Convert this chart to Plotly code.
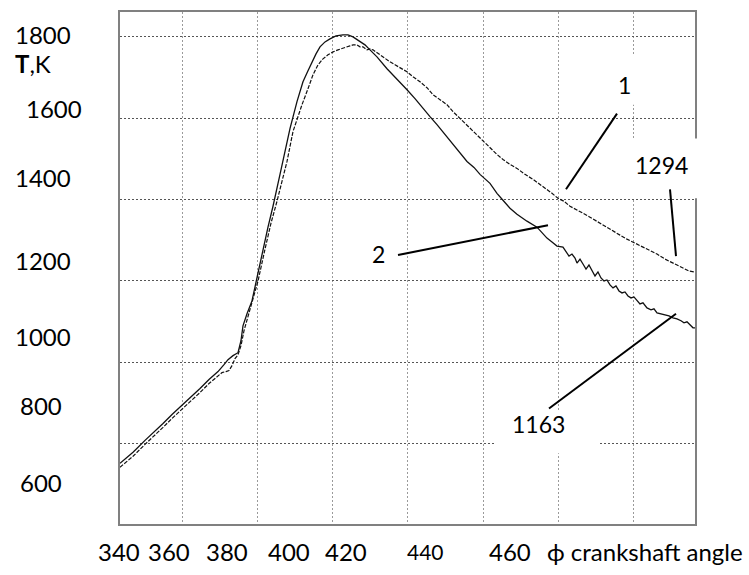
import plotly.graph_objects as go

# ---- data (crank angle, deg ; temperature, K) ----
angle_1 = [343.54, 347.0, 350.18, 352.83, 354.96, 357.35, 360.0, 362.39, 364.78, 367.17,
           369.56, 370.62, 371.68, 372.48, 373.27, 374.07, 374.87, 375.66, 376.46, 377.52,
           378.58, 380.18, 382.04, 383.63, 385.22, 386.55, 387.88, 389.47, 390.53, 391.86,
           393.45, 394.78, 396.11, 397.43, 398.76, 400.09, 401.42, 402.74, 403.81, 404.60,
           405.40, 406.46, 407.26, 408.05, 409.12, 409.91, 410.71, 411.77, 413.10, 414.16,
           415.22, 416.55, 417.88, 419.74, 421.33, 423.19, 425.04, 426.64, 428.50, 430.35,
           431.95, 433.81, 435.40, 437.26, 439.12, 440.97, 442.30, 443.63, 445.22, 447.08,
           448.94, 451.06, 453.19, 455.04, 456.90, 458.23, 459.82, 461.42, 463.01, 464.60,
           466.46, 468.32, 470.18, 472.30, 474.43, 476.29, 478.14, 479.73, 481.59, 483.72,
           486.11, 488.23, 490.35, 491.68, 493.01, 494.60, 496.20]
temp_1 = [741.2, 768.1, 797.5, 819.6, 839.2, 861.3, 883.3, 902.9, 925.0, 947.1,
          966.7, 974.0, 976.5, 978.9, 991.2, 1008.3, 1018.1, 1040.2, 1077.0, 1111.3,
          1143.1, 1199.5, 1277.9, 1341.7, 1395.6, 1444.6, 1493.6, 1567.2, 1599.0, 1633.3,
          1672.5, 1706.9, 1731.4, 1746.1, 1755.9, 1763.2, 1768.1, 1773.0, 1775.5, 1777.9,
          1780.4, 1780.4, 1775.5, 1775.5, 1768.1, 1770.6, 1768.1, 1760.8, 1753.4, 1746.1,
          1738.7, 1731.4, 1724.0, 1714.2, 1702.0, 1689.7, 1675.0, 1657.8, 1645.6, 1633.3,
          1616.2, 1599.0, 1584.3, 1567.2, 1552.4, 1535.3, 1523.0, 1510.8, 1498.5, 1486.3,
          1476.5, 1461.8, 1449.5, 1437.3, 1425.0, 1415.2, 1402.9, 1395.6, 1383.3, 1376.0,
          1366.2, 1356.4, 1346.6, 1334.3, 1322.1, 1312.3, 1302.4, 1295.1, 1285.3, 1275.5,
          1265.7, 1253.4, 1243.6, 1238.7, 1231.4, 1224.0, 1221.6]

angle_2 = [343.54, 347.0, 350.18, 352.83, 354.96, 357.35, 360.0, 362.39, 364.78, 367.17,
           369.56, 371.15, 372.21, 373.54, 374.87, 375.66, 376.19, 377.26, 378.58, 380.18,
           381.50, 382.83, 384.16, 385.22, 386.02, 387.35, 388.67, 390.53, 392.12, 393.45,
           394.51, 395.58, 396.64, 397.97, 399.29, 400.89, 402.74, 404.07, 405.40, 406.73,
           408.58, 409.91, 411.77, 414.43, 417.08, 419.74, 421.86, 423.98, 425.84, 427.70,
           429.82, 431.95, 433.81, 435.67, 437.52, 439.12, 441.77, 443.63, 445.22, 447.08,
           448.94, 451.59, 454.25, 456.90, 458.23, 459.56, 461.15, 461.95, 462.75, 463.54,
           464.34, 464.87, 465.67, 466.46, 467.26, 468.05, 468.85, 469.65, 470.44, 471.24,
           472.04, 472.83, 473.63, 474.43, 475.22, 476.02, 476.82, 477.61, 478.41, 479.21,
           480.00, 480.80, 481.59, 482.39, 483.45, 484.52, 485.31, 486.11, 487.17, 488.23,
           489.29, 490.35, 491.42, 492.48, 493.27, 494.07, 494.87, 495.67, 496.20]
temp_2 = [751.0, 777.9, 807.3, 829.4, 849.0, 871.1, 893.1, 912.7, 934.8, 956.9,
          976.5, 993.6, 1005.9, 1015.7, 1023.0, 1052.4, 1089.2, 1118.6, 1150.5, 1219.1,
          1277.9, 1331.9, 1383.3, 1425.0, 1461.8, 1518.1, 1574.5, 1640.7, 1689.7, 1716.7,
          1738.7, 1758.3, 1775.5, 1787.7, 1795.1, 1802.5, 1804.9, 1804.9, 1800.0, 1792.6,
          1780.4, 1768.1, 1751.0, 1721.6, 1697.1, 1670.1, 1648.0, 1623.5, 1603.9, 1584.3,
          1559.8, 1535.3, 1513.2, 1493.6, 1478.9, 1461.8, 1439.7, 1415.2, 1398.0, 1378.4,
          1363.7, 1346.6, 1331.9, 1304.9, 1295.1, 1285.3, 1282.8, 1273.0, 1260.8, 1265.7,
          1255.9, 1243.6, 1253.4, 1241.2, 1228.9, 1238.7, 1224.0, 1211.8, 1221.6, 1206.9,
          1199.5, 1202.0, 1189.7, 1182.4, 1187.3, 1175.0, 1170.1, 1172.6, 1162.7, 1157.8,
          1160.3, 1150.5, 1143.1, 1145.6, 1133.3, 1128.4, 1130.9, 1121.1, 1118.6, 1116.2,
          1113.7, 1108.8, 1106.4, 1101.5, 1096.6, 1099.0, 1091.7, 1084.3, 1084.3]

y_tick_labels = ["1800", "1600", "1400", "1200", "1000", "800", "600"]
x_tick_labels = ["340", "360", "380", "400", "420", "440", "460"]
x_title = "\u03d5 crankshaft angle"
y_title = "<b>T</b>,K"
curve_labels = ["1", "2", "1294", "1163"]

# ---- layout geometry (pixels of the 749x575 page) ----
W, H = 749, 575
L, R, T, B = 120, 695, 10, 524


def px(p):
    return (p - L) / (R - L)


def py(q):
    return (B - q) / (B - T)


FONT = "Lato, 'Open Sans', sans-serif"
FS = 24

fig = go.Figure()
fig.add_trace(go.Scatter(x=angle_1, y=temp_1, mode="lines", name="1",
                         line=dict(color="#111111", width=1.2, dash="4px,1.5px")))
fig.add_trace(go.Scatter(x=angle_2, y=temp_2, mode="lines", name="2",
                         line=dict(color="#111111", width=1.3)))

shapes = []
# white label boxes
for (x0, y0, x1, y1) in [(598, 53, 645, 103), (628, 137, 706, 197), (494, 410, 599, 453)]:
    shapes.append(dict(type="rect", xref="paper", yref="paper", layer="above",
                       x0=px(x0), x1=px(x1), y0=py(y1), y1=py(y0),
                       fillcolor="white", line=dict(width=0)))
# leader lines
for (x0, y0, x1, y1) in [(617, 112, 566, 188), (398, 254, 548, 224),
                         (670, 188, 676, 255), (549, 408, 676, 313)]:
    shapes.append(dict(type="line", xref="paper", yref="paper", layer="above",
                       x0=px(x0), y0=py(y0), x1=px(x1), y1=py(y1),
                       line=dict(color="black", width=2)))

ann = []
# y tick labels (left-aligned, irregular positions as in the reference)
for txt, lx, cy in zip(y_tick_labels, [13, 24, 13, 13, 13, 18, 18],
                       [33, 107, 176, 259, 336, 405, 482]):
    ann.append(dict(text=txt, x=px(lx), y=py(cy), xanchor="left", yanchor="middle",
                    font=dict(size=FS)))
ann.append(dict(text=y_title, x=px(13), y=py(62), xanchor="left", yanchor="middle",
                font=dict(size=FS)))
# x tick labels
for txt, cx, sz in zip(x_tick_labels, [119, 169, 227, 289, 346, 425, 510],
                       [FS, FS, FS, FS, FS, 21, FS]):
    ann.append(dict(text=txt, x=px(cx), y=py(552), xanchor="center", yanchor="middle",
                    font=dict(size=sz)))
ann.append(dict(text=x_title, x=px(545), y=py(552), xanchor="left", yanchor="middle",
                font=dict(size=FS)))
# curve labels
for txt, cx, cy in zip(curve_labels, [624, 378, 661, 538], [83, 253, 164, 424]):
    ann.append(dict(text=txt, x=px(cx), y=py(cy), xanchor="center", yanchor="middle",
                    font=dict(size=23)))

for a in ann:
    a.update(xref="paper", yref="paper", showarrow=False)
    a["font"].update(family=FONT, color="black")

fig.update_layout(
    width=W, height=H,
    margin=dict(l=L, r=W - R, t=T, b=H - B, pad=0),
    paper_bgcolor="white", plot_bgcolor="white",
    showlegend=False,
    shapes=shapes, annotations=ann,
    font=dict(family=FONT, color="black"),
    xaxis=dict(range=[343.54, 496.2], tick0=360, dtick=20, showticklabels=False,
               ticks="", showgrid=True, gridcolor="#9a9a9a", gridwidth=1,
               griddash="2px,2px", zeroline=False, showline=True, mirror=True,
               linecolor="#808080", linewidth=1.5),
    yaxis=dict(range=[601.5, 1861.3], tick0=800, dtick=200, showticklabels=False,
               ticks="", showgrid=True, gridcolor="#555555", gridwidth=1,
               griddash="2px,2px", zeroline=False, showline=True, mirror=True,
               linecolor="#808080", linewidth=1.5),
)

fig.write_html("out.html", config={"displayModeBar": False},
               post_script="document.body.style.margin='0px';document.body.style.overflow='hidden';")
